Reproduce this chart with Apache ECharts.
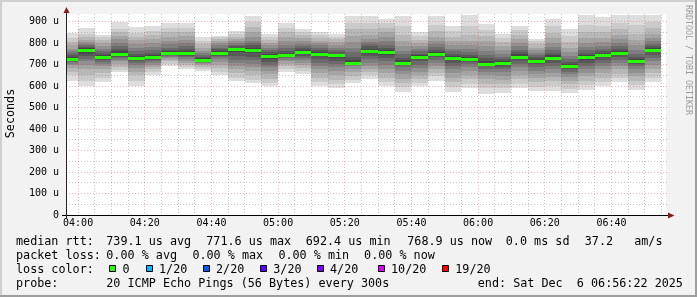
<!DOCTYPE html>
<html><head><meta charset="utf-8">
<script src="https://cdn.jsdelivr.net/npm/echarts@6/dist/echarts.min.js"></script>
<style>html,body{margin:0;padding:0;background:#f2f2f2}#c{width:697px;height:297px}</style>
</head><body><div id="c"></div>
<script>
// ---------------- data ----------------
const graphStart = "03:56:22";
const graphEnd = "06:56:22";
const binEnd = ["04:00","04:05","04:10","04:15","04:20","04:25","04:30","04:35","04:40","04:45","04:50","04:55",
  "05:00","05:05","05:10","05:15","05:20","05:25","05:30","05:35","05:40","05:45","05:50","05:55",
  "06:00","06:05","06:10","06:15","06:20","06:25","06:30","06:35","06:40","06:45","06:50","06:55"];
// median rtt per 5-minute step (microseconds)
const median = [727,767,735,752,732,735,755,753,724,756,771.6,770,741,746,760,750,744,710,766,760,710,735,750,730,
  726,704,707,738,719,733,692.4,736,746,753,716,768.9];
// the 20 sorted ping times per step (microseconds)
const pings = [
 [626,650,665,685,698,705,712,718,723,726,729,735,745,755,765,775,790,805,822,846],
 [599,625,650,680,700,715,728,740,752,764,770,776,782,790,797,805,815,828,845,869],
 [620,640,660,680,695,705,713,720,728,733,737,745,755,765,775,785,800,815,828,840],
 [665,675,690,705,715,722,730,738,745,750,754,762,772,785,800,818,835,850,866,897],
 [599,625,650,668,685,698,708,716,724,730,734,742,752,765,780,797,815,830,846,877],
 [650,665,678,690,700,710,718,724,730,733,737,745,755,768,782,800,820,840,858,882],
 [696,705,715,722,730,737,742,748,752,754,756,762,770,780,795,812,830,850,870,892],
 [680,690,700,710,718,726,734,742,748,752,755,762,772,785,800,815,832,852,870,892],
 [670,680,690,698,705,710,715,719,722,723,726,732,738,745,755,765,778,795,812,830],
 [650,668,685,700,712,725,735,742,749,755,758,765,772,780,790,800,810,820,828,835],
 [622,640,660,680,695,708,722,740,758,770,773,778,785,792,800,808,818,830,845,858],
 [614,630,650,670,690,705,720,738,755,768,772,780,790,800,812,828,850,875,900,928],
 [599,615,635,655,672,688,700,712,725,739,743,750,758,768,778,790,802,815,828,842],
 [665,680,692,705,715,722,730,736,741,745,748,756,766,778,793,810,830,850,870,892],
 [657,670,685,698,710,722,732,742,752,758,762,770,778,788,798,810,822,838,852,864],
 [603,620,640,660,678,695,710,725,740,748,752,760,768,778,790,800,812,825,838,851],
 [593,610,630,652,670,688,702,715,730,742,746,752,760,770,780,792,805,818,830,845],
 [614,630,648,665,680,692,700,705,708,709,711,722,738,758,780,805,835,865,895,925],
 [634,650,665,680,695,710,725,740,752,764,768,775,785,795,805,820,840,865,895,925],
 [599,620,640,660,680,698,715,730,745,758,762,770,780,793,808,828,850,870,892,913],
 [572,595,615,635,655,672,688,698,705,709,711,720,732,748,765,785,810,840,880,928],
 [599,615,632,650,668,685,700,715,725,733,737,744,752,762,773,786,800,815,832,851],
 [626,645,662,680,695,710,722,735,743,748,752,760,770,782,795,812,830,855,885,928],
 [572,595,618,640,660,678,695,710,720,728,732,740,750,762,775,790,808,830,855,882],
 [593,612,632,652,670,688,702,713,720,725,728,735,745,758,772,790,810,840,880,930],
 [565,590,612,632,650,668,682,694,700,703,706,716,730,746,764,785,808,835,862,890],
 [568,590,612,630,648,665,678,690,700,705,709,716,725,738,752,768,785,805,825,843],
 [593,612,632,652,670,688,702,715,726,736,740,748,758,770,785,800,818,838,860,882],
 [577,598,618,638,655,672,688,702,712,718,721,728,735,745,755,768,780,795,808,820],
 [577,600,622,642,660,678,695,710,722,731,735,745,755,768,782,800,822,848,878,915],
 [568,588,608,625,642,656,668,678,686,691,694,702,712,725,740,758,778,805,835,866],
 [583,605,625,645,662,680,695,710,722,734,738,745,755,768,782,800,822,850,885,930],
 [599,620,640,660,678,695,710,722,735,744,748,755,765,775,788,805,825,850,882,920],
 [618,638,658,678,695,710,722,735,745,751,755,762,772,785,800,818,840,865,895,930],
 [583,605,625,645,662,678,692,702,710,715,718,725,738,752,770,790,815,845,885,930],
 [618,640,660,680,698,715,730,745,758,767,771,778,786,795,808,825,845,870,898,930]
];
const xTickLabels = ["04:00","04:20","04:40","05:00","05:20","05:40","06:00","06:20","06:40"];
const yTickValues = [0,100,200,300,400,500,600,700,800,900];
const yMax = 936;
const rttStats = ["739.1","771.6","692.4","768.9"];
const rttStatNames = ["avg","max","min","now"];
const rttSd = "0.0";
const rttAmS = "37.2";
const lossStats = ["0.00","0.00","0.00","0.00"];
const lossLevels = ["0","1/20","2/20","3/20","4/20","10/20","19/20"];
const probeText = "20 ICMP Echo Pings (56 Bytes) every 300s";
const endText = "end: Sat Dec  6 06:56:22 2025";

// ---------------- styles ----------------
const lossColors = ["#26ff00","#00b8ff","#0059ff","#5e00ff","#7e00ff","#dd00ff","#ff0000"];
const FONT = "DejaVu Sans Mono";
const LFS = 11.75;

function toMin(s){const p=s.split(':').map(Number);return p[0]*60+p[1]+(p[2]||0)/60;}
function fmt(m){const h=Math.floor(m/60),mm=Math.round(m-h*60);return String(h).padStart(2,'0')+':'+String(mm).padStart(2,'0');}
const startMin = toMin(graphStart), endMin = toMin(graphEnd);

const smokeData = binEnd.map((e,k)=>{
  const en = toMin(e);
  const st = k===0 ? Math.max(startMin,en-5) : toMin(binEnd[k-1]);
  return [st,en].concat(pings[k]);
});
const medData = binEnd.map((e,k)=>{
  const en = toMin(e);
  const st = k===0 ? Math.max(startMin,en-5) : toMin(binEnd[k-1]);
  return [st,en,median[k]];
});
// grid lines: [orientation, value, major]
const gridData = [];
for (let t=Math.ceil(startMin/5)*5; t<=endMin; t+=5) gridData.push([0,t,(t%20===0)?1:0]);
for (let v=50; v<yMax; v+=50) gridData.push([1,v,(v%100===0)?1:0]);
gridData.sort((a,b)=>a[2]-b[2]);

function grayHex(i){ // i = 1..10
  const c = Math.floor(190/10*(10-i))+50;
  const h = c.toString(16).padStart(2,'0');
  return '#'+h+h+h;
}

const chart = echarts.init(document.getElementById('c'), null, {width:697,height:297});

const legendEls = [];
function txt(s,x,y,extra){legendEls.push(Object.assign({type:'text',x:x,y:y,z:100,style:{text:s,font:LFS+'px "'+FONT+'"',fill:'#000',align:'left',verticalAlign:'middle'}},extra||{}));}
const L = [242,255.9,269.8,283.7];
txt('median rtt:',16,L[0]);
const rttX=[106.3,206.3,305.8,407.3];
rttStats.forEach((v,i)=>txt(v+' us '+rttStatNames[i],rttX[i],L[0]));
txt(rttSd+' ms sd',505.8,L[0]);
txt(rttAmS,584.8,L[0]);
txt('am/s',634.2,L[0]);
txt('packet loss:',16,L[1]);
const lossX=[106.3,192.4,278.4,364.1];
lossStats.forEach((v,i)=>txt(v+' % '+rttStatNames[i],lossX[i],L[1]));
txt('loss color:',16,L[2]);
const sqX=[109.3,145.7,202.7,260,316.7,377.7,442];
lossLevels.forEach((lab,i)=>{
  legendEls.push({type:'rect',z:100,shape:{x:Math.round(sqX[i])+0.5,y:265.5,width:6,height:6},style:{fill:lossColors[i],stroke:'#000',lineWidth:1}});
  txt(lab,sqX[i]+13.3,L[2]);
});
txt('probe:',16,L[3]);
txt(probeText,106.3,L[3]);
txt(endText,477.8,L[3]);
// axis title & watermark
legendEls.push({type:'text',x:11,y:113.5,rotation:Math.PI/2,z:100,style:{text:'Seconds',font:LFS+'px "'+FONT+'"',fill:'#000',align:'center',verticalAlign:'middle'}});
legendEls.push({type:'text',x:688.5,y:5,rotation:-Math.PI/2,z:100,style:{text:'RRDTOOL / TOBI OETIKER',font:'8.3px "'+FONT+'"',fill:'#9a9a9a',align:'left',verticalAlign:'middle'}});
// frame
legendEls.push({type:'rect',z:90,shape:{x:0,y:0,width:697,height:2},style:{fill:'#cfcfcf'}});
legendEls.push({type:'rect',z:90,shape:{x:0,y:0,width:2,height:297},style:{fill:'#cfcfcf'}});
legendEls.push({type:'rect',z:91,shape:{x:0,y:295,width:697,height:2},style:{fill:'#9e9e9e'}});
legendEls.push({type:'rect',z:91,shape:{x:695,y:0,width:2,height:297},style:{fill:'#9e9e9e'}});
// axes lines and arrows
legendEls.push({type:'line',z:100,shape:{x1:62,y1:215.5,x2:671,y2:215.5},style:{stroke:'#000',lineWidth:1}});
legendEls.push({type:'line',z:100,shape:{x1:66.5,y1:219,x2:66.5,y2:10},style:{stroke:'#222',lineWidth:1}});
legendEls.push({type:'polygon',z:101,shape:{points:[[668,212.5],[674.5,215.5],[668,218.5]]},style:{fill:'#8b1a1a'}});
legendEls.push({type:'polygon',z:101,shape:{points:[[63.5,13],[66.5,7],[69.5,13]]},style:{fill:'#8b1a1a'}});

chart.setOption({
  animation:false,
  backgroundColor:'#f2f2f2',
  grid:{left:66,top:14,width:600,height:201,containLabel:false,show:true,backgroundColor:'#ffffff',borderWidth:0},
  xAxis:{type:'value',min:startMin,max:endMin,
    axisLine:{show:false},axisTick:{show:false},splitLine:{show:false},
    axisLabel:{customValues:xTickLabels.map(toMin),formatter:v=>fmt(v),fontFamily:FONT,fontSize:10,color:'#000',margin:3}},
  yAxis:{type:'value',min:0,max:yMax,
    axisLine:{show:false},axisTick:{show:false},splitLine:{show:false},
    axisLabel:{customValues:yTickValues,formatter:v=>v===0?'0':(v+' u'),fontFamily:FONT,fontSize:10,color:'#000',margin:7}},
  series:[
    {type:'custom',z:1,clip:true,data:smokeData,encode:{x:[0,1],y:[2,21]},
     renderItem:function(params,api){
       const s=api.value(0),e=api.value(1);const ch=[];
       for(let i=0;i<10;i++){
         const lo=api.value(2+i),hi=api.value(21-i);
         const a=api.coord([s,hi]),b=api.coord([e,lo]);
         const x1=Math.round(a[0]),x2=Math.round(b[0]),y1=Math.round(a[1]),y2=Math.round(b[1]);
         ch.push({type:'rect',shape:{x:x1,y:y1,width:x2-x1,height:y2-y1},style:{fill:grayHex(i+1)}});
       }
       return {type:'group',children:ch};
     }},
    {type:'custom',z:2,data:gridData,
     renderItem:function(params,api){
       const cs=params.coordSys;const o=api.value(0),v=api.value(1),maj=api.value(2);
       const stroke=maj?'rgba(225,40,40,0.35)':'rgba(128,128,128,0.45)';
       let shape;
       if(o===0){const x=Math.floor(api.coord([v,0])[0])+0.5;shape={x1:x,y1:cs.y,x2:x,y2:cs.y+cs.height};}
       else{const y=Math.floor(api.coord([startMin,v])[1])+0.5;shape={x1:cs.x,y1:y,x2:cs.x+cs.width+2,y2:y};}
       return {type:'line',shape:shape,style:{stroke:stroke,lineWidth:1,lineDash:[1,2]}};
     }},
    {type:'custom',z:3,data:medData,encode:{x:[0,1],y:2},
     renderItem:function(params,api){
       const a=api.coord([api.value(0),api.value(2)]),b=api.coord([api.value(1),api.value(2)]);
       const x1=Math.round(a[0]),x2=Math.round(b[0]),yc=Math.round(a[1]);
       return {type:'rect',shape:{x:x1,y:yc-1,width:x2-x1,height:3},style:{fill:lossColors[0]}};
     }}
  ],
  graphic:legendEls
});
</script></body></html>
